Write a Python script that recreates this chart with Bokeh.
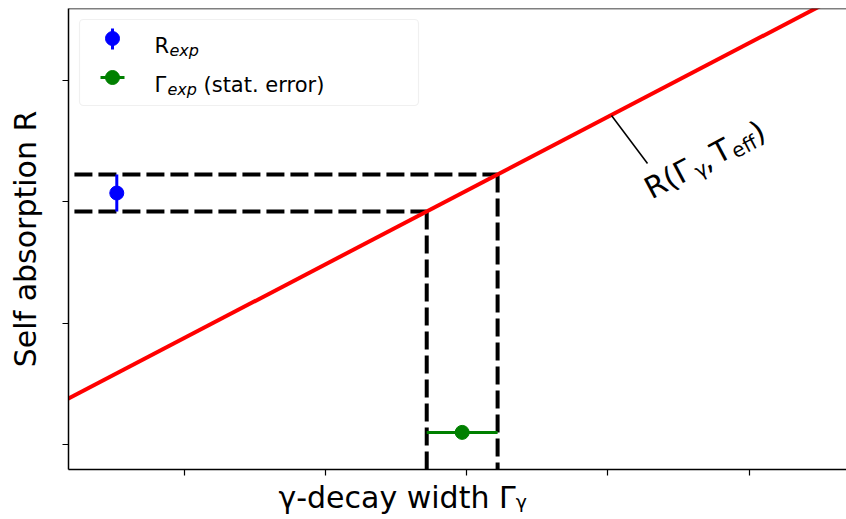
import math

from bokeh.embed import file_html
from bokeh.models import BoxAnnotation, FixedTicker, Label, Range1d, Span, Title
from bokeh.plotting import figure
from bokeh.resources import INLINE

# --- data -------------------------------------------------------------
# model curve R(Gamma_gamma, T_eff), given by its two end points
gamma_curve = [0.0, 6.0]
r_curve = [1.270, 4.916]

# measured self absorption R_exp with its uncertainty
r_exp_x = 0.522
r_exp = 3.073
r_err = 0.153

# decay width read back from the curve, with statistical error
gamma_exp = 2.968
gamma_err = 0.251
gamma_exp_y = 1.10

# start of the horizontal guide lines
guide_x_start = 0.222

x_ticks = [1, 2, 3, 4, 5]
y_ticks = [1, 2, 3, 4]

# --- frame geometry ---------------------------------------------------
W, H = 846, 519
FL, FR, FT, FB = 68, 846, 8, 469
X0, X1 = 0.18, 5.69
Y0, Y1 = 0.794, 4.594
FONT = "DejaVu Sans"


def dx(px):
    return X0 + (px - FL) * (X1 - X0) / (FR - FL)


def dy(py):
    return Y0 + (FB - py) * (Y1 - Y0) / (FB - FT)


p = figure(
    width=W, height=H,
    x_range=Range1d(X0, X1), y_range=Range1d(Y0, Y1),
    output_backend="svg", toolbar_location=None,
    min_border_left=FL, min_border_right=W - FR,
    min_border_top=FT, min_border_bottom=H - FB,
    background_fill_color="white", border_fill_color="white",
)
p.outline_line_color = None
p.xgrid.visible = False
p.ygrid.visible = False

for ax, ticks in ((p.xaxis, x_ticks), (p.yaxis, y_ticks)):
    ax.ticker = FixedTicker(ticks=ticks)
    ax.major_label_overrides = {t: "" for t in ticks}
    ax.major_label_text_font_size = "1px"
    ax.major_label_standoff = 0
    ax.minor_tick_line_color = None
    ax.major_tick_in = 0
    ax.major_tick_out = 6
    ax.major_tick_line_width = 1.2
    ax.major_tick_line_color = "black"
    ax.axis_line_width = 1.5
    ax.axis_line_color = "black"

p.yaxis.axis_label = "Self absorption R"
p.yaxis.axis_label_text_font = FONT
p.yaxis.axis_label_text_font_size = "30px"
p.yaxis.axis_label_text_font_style = "normal"
p.yaxis.axis_label_text_color = "black"
p.yaxis.axis_label_standoff = 20

p.add_layout(Title(text="γ-decay width Γᵧ", align="left", offset=210,
                   text_font=FONT, text_font_size="30px", text_font_style="normal",
                   text_color="black", standoff=5), "below")

p.add_layout(Span(location=Y1, dimension="width", line_color="black", line_width=1.5))

# dashed guide lines from R_exp +- err to the curve and down to the axis
r_lo, r_hi = r_exp - r_err, r_exp + r_err
g_lo, g_hi = gamma_exp - gamma_err, gamma_exp + gamma_err
dash = dict(line_color="black", line_width=4, line_dash="18 6")
p.line([guide_x_start, g_lo], [r_lo, r_lo], **dash)
p.line([guide_x_start, g_hi], [r_hi, r_hi], **dash)
p.line([g_lo, g_lo], [r_lo, Y0], **dash)
p.line([g_hi, g_hi], [r_hi, Y0], **dash)

# model curve
p.line(gamma_curve, r_curve, line_color="red", line_width=4)

# R_exp with vertical error bar
p.segment([r_exp_x], [r_lo], [r_exp_x], [r_hi], line_color="blue", line_width=3)
p.scatter([r_exp_x], [r_exp], size=14, color="blue")

# Gamma_exp with horizontal error bar
p.segment([g_lo], [gamma_exp_y], [g_hi], [gamma_exp_y], line_color="green", line_width=3)
p.scatter([gamma_exp], [gamma_exp_y], size=14, color="green")

# pointer and label for the curve
p.segment([dx(611)], [dy(115)], [dx(647)], [dy(163)], line_color="black", line_width=1.5)

theta = math.radians(28)
ux, uy = math.cos(theta), -math.sin(theta)
nx, ny = math.sin(theta), math.cos(theta)
ax0, ay0 = 646, 190
pieces = [
    ("R(Γ", 0, 0, "30px"),
    ("γ", 52, 7, "20px"),
    (",", 62, 0, "30px"),
    ("T", 75, 0, "30px"),
    ("eff", 94, 7, "20px"),
    (")", 120, 0, "30px"),
]
for txt, d, drop, size in pieces:
    px = ax0 + d * ux + drop * nx
    py = ay0 + d * uy + drop * ny
    p.add_layout(Label(x=dx(px), y=dy(py), text=txt, angle=theta,
                       text_font=FONT, text_font_size=size, text_color="black",
                       text_align="left", text_baseline="alphabetic"))

# legend
p.add_layout(BoxAnnotation(left=dx(79), right=dx(418), top=dy(19), bottom=dy(105),
                           fill_color="white", fill_alpha=0.8,
                           line_color="#cccccc", line_width=1.2,
                           border_radius=4, level="underlay"))
p.segment([dx(112)], [dy(28)], [dx(112)], [dy(49)], line_color="blue", line_width=3)
p.scatter([dx(112)], [dy(38)], size=14, color="blue")
p.segment([dx(100)], [dy(77)], [dx(124)], [dy(77)], line_color="green", line_width=3)
p.scatter([dx(112)], [dy(77)], size=14, color="green")

legend_text = [
    ("R", 154, 45, "21px", "normal"),
    ("exp", 169, 50, "16px", "italic"),
    ("Γ", 154, 84, "21px", "normal"),
    ("exp", 167, 89, "16px", "italic"),
    ("(stat. error)", 203, 84, "21px", "normal"),
]
for txt, px, py, size, style in legend_text:
    p.add_layout(Label(x=dx(px), y=dy(py), text=txt, text_font=FONT,
                       text_font_size=size, text_font_style=style,
                       text_color="black", text_baseline="alphabetic"))

open("out.html", "w").write(file_html(p, INLINE))
